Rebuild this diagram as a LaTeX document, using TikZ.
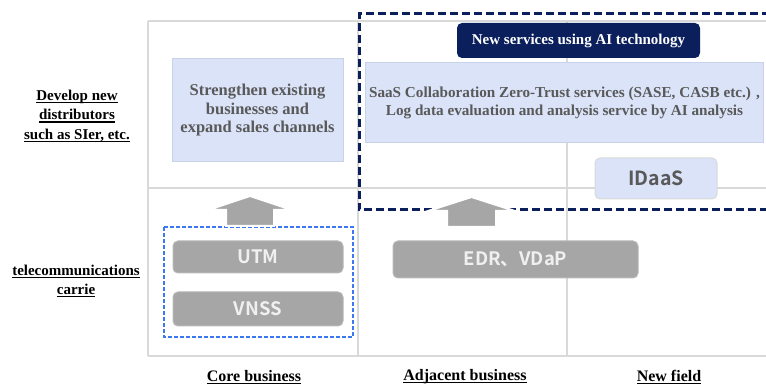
\documentclass[tikz,border=0pt]{standalone}
\usepackage{fontspec}
\setmainfont{Liberation Serif}
\newfontfamily\jpfont{Noto Sans CJK JP Bold}
\usepackage{xcolor}
\usepackage{tikz}
\usetikzlibrary{positioning}
\definecolor{navy}{HTML}{0B1F5C}
\definecolor{paleblue}{HTML}{DAE3F8}
\definecolor{paleedge}{HTML}{C8D2E8}
\definecolor{boxgray}{HTML}{A6A6A6}
\definecolor{gridgray}{HTML}{D9D9D9}
\definecolor{dashblue}{HTML}{3C78F0}
\definecolor{txtgray}{HTML}{595959}
\newcommand\undl[1]{\setbox0\hbox{#1}\rlap{\rule[-2.6pt]{\wd0}{1.2pt}}\box0}
\tikzset{
    rowlabel/.style={
        align=center, inner sep=0pt,
        font=\bfseries\fontsize{15}{19.5}\selectfont
    },
    collabel/.style={
        inner sep=0pt, font=\bfseries\fontsize{16}{19}\selectfont
    },
    plan/.style={
        rectangle, fill=paleblue, draw=paleedge, line width=1pt,
        align=center, text=txtgray,
        font=\bfseries\fontsize{16.5}{18.5}\selectfont
    },
    product/.style={
        rectangle, rounded corners=5pt, fill=boxgray, draw=boxgray!80,
        line width=1pt, text=white!94!black,
        font=\jpfont\fontsize{18.5}{20}\selectfont
    },
    banner/.style={
        rectangle, rounded corners=5pt, fill=navy,
        text=white, font=\bfseries\fontsize{15}{17}\selectfont
    },
    blockup/.style={fill=boxgray, draw=white, line width=2pt, line join=miter},
    grid/.style={draw=gridgray, line width=1.5pt}
}

\begin{document}
\begin{tikzpicture}[x=1pt, y=-1pt]
\useasboundingbox (0,0) rectangle (766,387);

%% grid: columns at x=148, 358, 567; rows at y=21, 188, 356
\draw[grid] (148,21) -- (766,21);
\draw[grid] (148,188) -- (766,188);
\draw[grid] (148,356) -- (766,356);
\draw[grid] (148,21) -- (148,356);
\draw[grid] (358,21) -- (358,356);
\draw[grid] (567,21) -- (567,356);

%% row labels
\node[rowlabel] (distlabel) at (77,116)
    {\undl{Develop new}\\\undl{distributors}\\\undl{such as SIer, etc.}};
\node[rowlabel] (carrlabel) at (76,281)
    {\undl{telecommunications}\\\undl{carrie}};

%% column labels
\node[collabel] (corelabel) at (254,377) {\undl{Core business}};
\node[collabel] (adjlabel)  at (465,377) {\undl{Adjacent business}};
\node[collabel] (newlabel)  at (669,377) {\undl{New field}};

%% upper row
\node[plan, minimum width=171pt, minimum height=103pt] (strengthen) at (257.5,110.5)
    {Strengthen existing\\businesses and\\expand sales channels};
\node[plan, font=\bfseries\fontsize{15.2}{18.5}\selectfont,
      minimum width=397pt, minimum height=80pt] (saas) at (564.5,103)
    {SaaS Collaboration Zero-Trust services (SASE, CASB etc.) ,\\Log data evaluation and analysis service by AI analysis};
\node[banner, minimum width=243pt, minimum height=35pt] (aibanner) at (578.5,40.5)
    {New services using AI technology};
\node[product, fill=paleblue, draw=gridgray, text=txtgray, font=\jpfont\fontsize{19.5}{21}\selectfont,
      minimum width=122pt, minimum height=41pt] (idaas) at (656,178.5) {IDaaS};

%% lower row
\node[product, minimum width=170pt, minimum height=32pt] (utm)  at (258,257) {UTM};
\node[product, minimum width=170pt, minimum height=34pt] (vnss) at (258,309) {VNSS};
\node[product, minimum width=245pt, minimum height=37pt] (edr)  at (515.5,259.5) {EDR、VDaP};

%% dashed frames
\draw[dashblue, line width=1.3pt, dash pattern=on 4pt off 2pt] (164,227) rectangle (353,337);
\draw[navy, line width=3pt, dash pattern=on 8pt off 4pt] (770,14) -- (359,14) -- (359,210) -- (770,210);

%% block arrows, core -> upper, adjacent -> upper
\coordinate (coreup) at (250,226);
\coordinate (adjup)  at (471.5,227);
\filldraw[blockup] (coreup) ++(-24,0) -- ++(0,-16) -- ++(-18,0) -- ++(42,-14)
    -- ++(42,14) -- ++(-18,0) -- ++(0,16) -- cycle;
\filldraw[blockup] (adjup) ++(-24.5,0) -- ++(0,-16) -- ++(-19,0) -- ++(43.5,-14)
    -- ++(43.5,14) -- ++(-19,0) -- ++(0,16) -- cycle;

\end{tikzpicture}
\end{document}
